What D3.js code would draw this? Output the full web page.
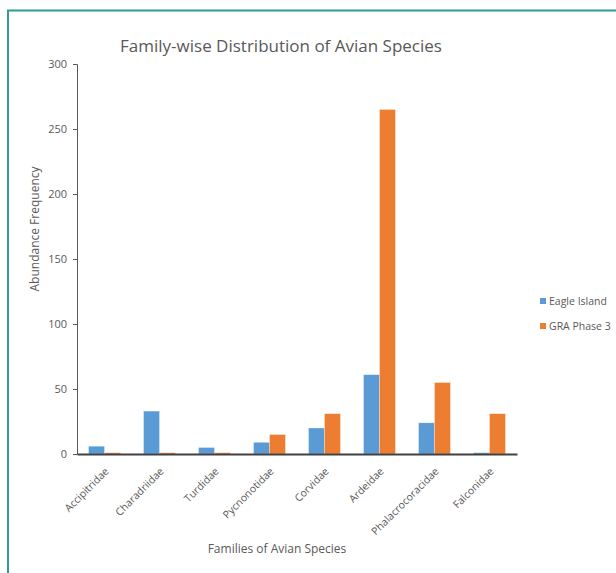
<!DOCTYPE html>
<html lang="en">
<meta charset="utf-8">
<title>Family-wise Distribution of Avian Species</title>
<style>
    body { margin: 0; background: white; }
    svg  { display: block; font-family: "Open Sans", "Noto Sans", sans-serif; }
</style>
<body>
<svg id="canvas"></svg>
<script src="https://cdn.jsdelivr.net/npm/d3@7"></script>
<script>

    /////////////////////// data //////////////////////
    var families     = ["Accipitridae", "Charadriidae", "Turdidae", "Pycnonotidae",
                        "Corvidae", "Ardeidae", "Phalacrocoracidae", "Falconidae"];
    var series_names = ["Eagle Island", "GRA Phase 3"];
    var eagle_island = [6, 33, 5, 9, 20, 61, 24, 1];
    var gra_phase3   = [1, 1, 1, 15, 31, 265, 55, 31];
    var y_ticks      = [0, 50, 100, 150, 200, 250, 300];
    ///////////////////////////////////////////////////

    ////////////////// layout / style /////////////////
    var width        = 616;
    var height       = 573;
    var plot_left    = 77;
    var plot_right   = 517;
    var plot_top     = 64;
    var plot_bottom  = 454;

    var blue         = '#5b9bd5';
    var orange       = '#ed7d31';
    var text_color   = '#595959';
    var frame_color  = '#2e9c94';
    ///////////////////////////////////////////////////

    var canvas = d3.select("#canvas")
        .attr('width',  width)
        .attr('height', height);

    // outer frame (only left and top edges visible)
    canvas.append("path")
        .attr('d', "M8," + height + " V10.5 H" + width)
        .attr('fill', 'none')
        .attr('stroke', frame_color)
        .attr('stroke-width', 2);

    var x0 = d3.scaleBand()
        .domain(families)
        .range([plot_left, plot_right])
        .paddingInner(0.42)
        .paddingOuter(0.21);

    var x1 = d3.scaleBand()
        .domain(series_names)
        .range([0, x0.bandwidth()]);

    var y = d3.scaleLinear()
        .domain([0, 300])
        .range([plot_bottom, plot_top]);

    var colors = d3.scaleOrdinal().domain(series_names).range([blue, orange]);

    var rows = families.map(function (f, i) {
        return { family: f, values: [
            { name: series_names[0], value: eagle_island[i] },
            { name: series_names[1], value: gra_phase3[i] }
        ]};
    });

    //////////////////// bars /////////////////////////
    var groups = canvas.append("g")
        .selectAll("g")
        .data(rows)
        .join("g")
        .attr('transform', function (d) { return "translate(" + x0(d.family) + ",0)"; });

    groups.selectAll("rect")
        .data(function (d) { return d.values; })
        .join("rect")
        .attr('x', function (d) { return x1(d.name); })
        .attr('y', function (d) { return y(d.value); })
        .attr('width', x1.bandwidth())
        .attr('height', function (d) { return y(0) - y(d.value); })
        .attr('fill', function (d) { return colors(d.name); })
        .attr('stroke', 'rgba(255,255,255,0.5)')
        .attr('stroke-width', 0.6);

    //////////////////// y axis ///////////////////////
    var y_axis = canvas.append("g")
        .attr('transform', "translate(" + plot_left + ",0)")
        .call(d3.axisLeft(y).tickValues(y_ticks).tickSize(4).tickPadding(6));
    y_axis.select(".domain").attr('stroke', '#595959');
    y_axis.selectAll(".tick line").attr('stroke', '#595959');
    y_axis.selectAll(".tick text")
        .attr('fill', text_color)
        .attr('font-size', 11)
        .attr('font-family', '"Open Sans", sans-serif');

    //////////////////// x axis ///////////////////////
    var x_axis = canvas.append("g")
        .attr('transform', "translate(0," + plot_bottom + ")")
        .call(d3.axisBottom(x0).tickSize(0).tickSizeOuter(0));
    x_axis.select(".domain").attr('stroke', '#404040').attr('stroke-width', 2);
    x_axis.selectAll(".tick text")
        .attr('fill', text_color)
        .attr('font-size', 10.5)
        .attr('font-family', '"Open Sans", sans-serif')
        .attr('text-anchor', 'end')
        .attr('x', 0)
        .attr('y', 0)
        .attr('dy', 0)
        .attr('transform', "translate(5,18) rotate(-45)");

    //////////////////// titles ///////////////////////
    canvas.append("text")
        .attr('x', 281)
        .attr('y', 52)
        .attr('text-anchor', 'middle')
        .attr('fill', text_color)
        .attr('font-size', 17)
        .text("Family-wise Distribution of Avian Species");

    canvas.append("text")
        .attr('transform', "translate(39,229) rotate(-90)")
        .attr('text-anchor', 'middle')
        .attr('fill', text_color)
        .attr('font-size', 12)
        .text("Abundance Frequency");

    canvas.append("text")
        .attr('x', 277)
        .attr('y', 553)
        .attr('text-anchor', 'middle')
        .attr('fill', text_color)
        .attr('font-size', 12)
        .text("Families of Avian Species");

    //////////////////// legend ///////////////////////
    var legend = canvas.append("g")
        .selectAll("g")
        .data(series_names)
        .join("g")
        .attr('transform', function (d, i) { return "translate(540," + (298 + i * 25) + ")"; });
    legend.append("rect")
        .attr('width', 6)
        .attr('height', 6)
        .attr('fill', function (d) { return colors(d); });
    legend.append("text")
        .attr('x', 9)
        .attr('y', 3)
        .attr('dy', '0.35em')
        .attr('fill', text_color)
        .attr('font-size', 10.5)
        .text(function (d) { return d; });

</script>
</body>
</html>
